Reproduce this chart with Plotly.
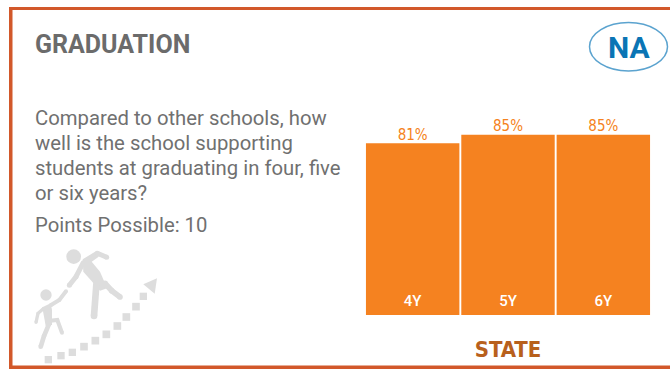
import plotly.graph_objects as go

# Graduation rates by cohort length
cohorts = ["4Y", "5Y", "6Y"]
rates = [81, 85, 85]
rate_labels = ["81%", "85%", "85%"]

title_text = "GRADUATION"
question_lines = [
    "Compared to other schools, how",
    "well is the school supporting",
    "students at graduating in four, five",
    "or six years?",
]
points_text = "Points Possible: 10"
rating_text = "NA"
group_text = "STATE"

W, H = 670, 369
ORANGE = "#f58220"
FRAME = "#d2582a"
GREY = "#707070"
ICON = "#dddddd"
CONDENSED = "DejaVu Sans Condensed"

fig = go.Figure()
fig.add_trace(go.Bar(
    x=cohorts, y=rates, marker=dict(color=ORANGE, line=dict(width=0)),
    hoverinfo="skip", showlegend=False,
))
fig.add_trace(go.Scatter(
    x=cohorts, y=rates, mode="text", text=rate_labels, textposition="top center",
    textfont=dict(family=CONDENSED, size=15, color=ORANGE),
    hoverinfo="skip", showlegend=False,
))

shapes = []


def px_shape(**kw):
    shapes.append(dict(xref="x2", yref="y2", layer="above", **kw))


# Card frame, open at the right edge
px_shape(type="rect", x0=9, x1=12.5, y0=7, y1=369, fillcolor=FRAME, line_width=0)
px_shape(type="rect", x0=9, x1=670, y0=7, y1=10, fillcolor=FRAME, line_width=0)
px_shape(type="rect", x0=9, x1=670, y0=365.5, y1=369, fillcolor=FRAME, line_width=0)

# Rating badge
px_shape(type="circle", x0=589.5, x1=667.5, y0=22.5, y1=71,
         line=dict(color="#5ba3cf", width=1.5), fillcolor="rgba(0,0,0,0)")


# Icon helpers: coordinates are on a 3x grid offset down by 230 px
def ix(v):
    return v / 3


def iy(v):
    return v / 3 + 230


def dot(cx, cy, r):
    px_shape(type="circle", x0=ix(cx - r), x1=ix(cx + r), y0=iy(cy - r), y1=iy(cy + r),
             fillcolor=ICON, line_width=0)


def limb(points, width):
    d = "M" + " L".join(f"{ix(a):.1f},{iy(b):.1f}" for a, b in points)
    px_shape(type="path", path=d, line=dict(color=ICON, width=width / 3),
             fillcolor="rgba(0,0,0,0)")
    for a, b in points:
        dot(a, b, width / 2)


def poly(points):
    d = "M" + " L".join(f"{ix(a):.1f},{iy(b):.1f}" for a, b in points) + " Z"
    px_shape(type="path", path=d, fillcolor=ICON, line_width=0)


# Taller climber
dot(221, 80, 22)
poly([(248, 88), (290, 62), (296, 80), (275, 95), (300, 125), (315, 160), (330, 172),
      (300, 182), (272, 150), (250, 125)])
limb([(292, 70), (320, 82)], 15)
limb([(250, 98), (228, 140), (208, 166)], 15)
limb([(290, 150), (282, 258)], 20)
limb([(315, 160), (335, 182), (360, 201)], 17)

# Smaller climber
dot(138, 195, 17)
poly([(127, 232), (152, 220), (156, 240), (156, 285), (137, 288)])
limb([(152, 226), (178, 210), (198, 184)], 12)
limb([(130, 236), (114, 250), (108, 277)], 10)
limb([(148, 280), (132, 318), (122, 350)], 14)
limb([(150, 272), (172, 270), (186, 308)], 12)

# Rising dotted path and its arrowhead
for cx, cy, s in [(145, 389, 22), (183, 377, 22), (217, 367, 22), (252, 350, 23),
                  (286, 332, 23), (319, 313, 23), (352, 288, 23), (379, 261, 23),
                  (408, 230, 23), (430, 199, 22)]:
    px_shape(type="rect", x0=ix(cx - s / 2), x1=ix(cx + s / 2),
             y0=iy(cy - s / 2), y1=iy(cy + s / 2), fillcolor=ICON, line_width=0)
poly([(430, 163), (471, 145), (464, 191)])

annotations = []


def label(text, x, y, size, color, family="Roboto", anchor="left"):
    annotations.append(dict(
        xref="x2", yref="y2", x=x, y=y, text=text, showarrow=False,
        xanchor=anchor, yanchor="middle", align="left",
        font=dict(family=family, size=size, color=color),
    ))


label(f"<b>{title_text}</b>", 33, 44.5, 25, "#6b6b6b")
for i, line in enumerate(question_lines):
    label(line, 33, 117.5 + i * 25.3, 20.3, GREY)
label(points_text, 33, 225, 20.3, GREY)
label(f"<b>{rating_text}</b>", 628.5, 47, 30, "#0a75b5", anchor="center")

fig.update_layout(
    width=W, height=H, margin=dict(l=0, r=0, t=0, b=0),
    paper_bgcolor="white", plot_bgcolor="rgba(0,0,0,0)",
    bargap=0.02, showlegend=False,
    shapes=shapes, annotations=annotations,
    xaxis=dict(
        domain=[365 / W, 651 / W], anchor="y", showgrid=False, zeroline=False, showline=False,
        ticks="", ticklabelposition="inside", ticklabelstandoff=3,
        tickfont=dict(family="Roboto", size=15, color="white", weight=500),
        title=dict(text=f"<b>{group_text}</b>", standoff=32,
                   font=dict(family=CONDENSED, size=22, color="#b8601c")),
    ),
    yaxis=dict(
        domain=[(H - 315) / H, (H - 103) / H], anchor="x", range=[0, 100],
        visible=False,
    ),
    xaxis2=dict(domain=[0, 1], range=[0, W], anchor="y2", visible=False, fixedrange=True),
    yaxis2=dict(domain=[0, 1], range=[H, 0], anchor="x2", visible=False, fixedrange=True),
)

fig.write_html("out.html", config=dict(displayModeBar=False))
